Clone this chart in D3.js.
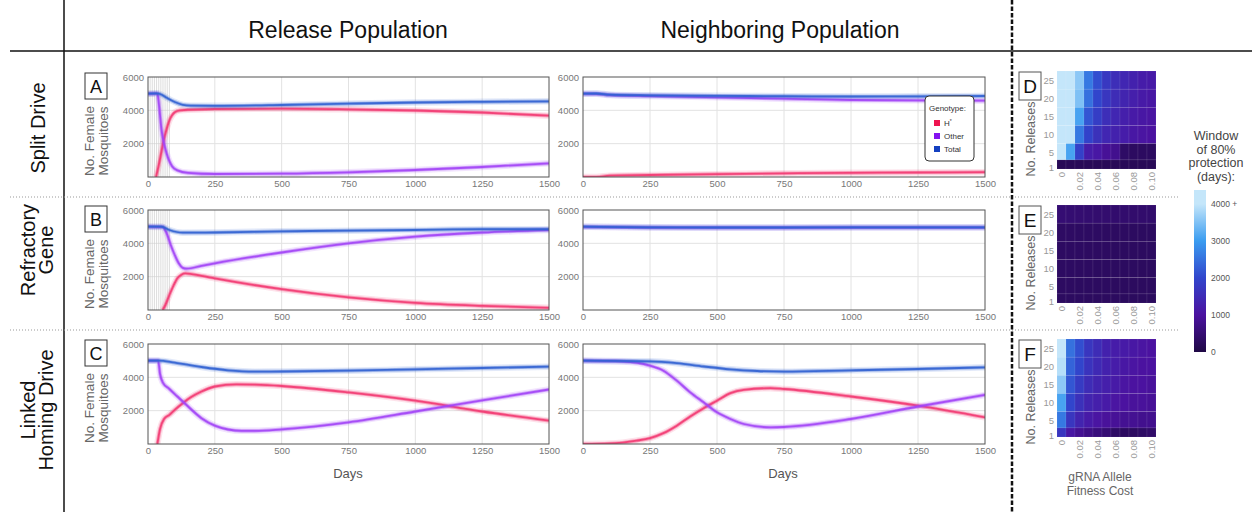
<!DOCTYPE html>
<html>
<head>
<meta charset="utf-8">
<script src="https://cdn.jsdelivr.net/npm/d3@7"></script>
<style>
  body { margin: 0; background: #fff; }
  text { font-family: 'Liberation Sans', Arial, Helvetica, sans-serif; }
</style>
</head>
<body>
<script>
// ---- data ----
const dayTicks = [0, 250, 500, 750, 1000, 1250, 1500];
const countTicks = [2000, 4000, 6000];
const releaseDays = [8, 16, 24, 32, 40, 48, 56, 64, 72, 80];

// [day, no. female mosquitoes]
const relA_h = [[30,0],[40,700],[50,1500],[60,2300],[70,2900],[80,3400],[90,3700],[100,3880],[120,4000],[250,4080],[500,4100],[750,4060],[1000,3990],[1250,3870],[1500,3680]];
const relA_other = [[0,5000],[35,5000],[40,4500],[45,3700],[50,2900],[60,2000],[70,1400],[80,950],[90,650],[110,400],[150,250],[250,180],[500,200],[750,280],[1000,420],[1250,600],[1500,820]];
const relA_total = [[0,5000],[30,5020],[45,4980],[70,4750],[100,4500],[130,4330],[160,4280],[250,4270],[500,4320],[750,4400],[1000,4470],[1250,4510],[1500,4540]];

const nbrA_h = [[0,0],[50,0],[100,80],[250,120],[500,170],[750,220],[1000,250],[1250,270],[1500,290]];
const nbrA_other = [[0,5000],[50,4990],[100,4920],[250,4860],[500,4780],[750,4700],[1000,4620],[1250,4600],[1500,4580]];
const nbrA_total = [[0,5000],[50,5010],[100,4940],[250,4900],[500,4870],[750,4850],[1000,4830],[1250,4840],[1500,4860]];

const relB_h = [[55,0],[65,300],[80,900],[95,1450],[110,1900],[125,2120],[140,2200],[200,2050],[250,1900],[500,1250],[750,760],[1000,430],[1250,250],[1500,130]];
const relB_other = [[0,5000],[55,4980],[70,4600],[85,3900],[100,3300],[115,2800],[130,2530],[145,2480],[200,2650],[250,2800],[500,3450],[750,4000],[1000,4400],[1250,4650],[1500,4800]];
const relB_total = [[0,5000],[50,5000],[80,4800],[130,4640],[250,4650],[500,4720],[750,4760],[1000,4800],[1250,4850],[1500,4850]];

const nbrB_h = []; // stays at zero, hidden under the axis
const nbrB_other = [[0,4990],[250,4950],[500,4940],[750,4940],[1000,4950],[1250,4950],[1500,4950]];
const nbrB_total = [[0,5000],[250,4960],[500,4950],[750,4950],[1000,4960],[1250,4960],[1500,4960]];

const relC_h = [[35,0],[45,900],[60,1500],[80,1750],[100,2050],[130,2450],[160,2800],[200,3150],[250,3450],[330,3580],[400,3560],[500,3480],[750,3100],[1000,2600],[1250,1950],[1500,1400]];
const relC_other = [[0,5000],[38,5000],[45,4200],[55,3700],[80,3300],[110,2850],[140,2400],[200,1550],[250,1100],[300,870],[350,790],[400,790],[500,880],[750,1300],[1000,1950],[1250,2620],[1500,3270]];
const relC_total = [[0,5000],[40,5000],[100,4880],[200,4620],[300,4420],[400,4340],[500,4350],[750,4400],[1000,4480],[1250,4560],[1500,4640]];

const nbrC_h = [[0,0],[100,30],[200,200],[250,350],[300,650],[350,1100],[400,1650],[450,2150],[500,2600],[550,3050],[600,3250],[700,3350],[750,3300],[1000,2850],[1250,2300],[1500,1600]];
const nbrC_other = [[0,5000],[150,4950],[250,4700],[300,4400],[350,3800],[400,3100],[450,2500],[500,1900],[550,1500],[600,1200],[700,1000],[750,1020],[1000,1500],[1250,2250],[1500,2950]];
const nbrC_total = [[0,5000],[250,4960],[350,4850],[450,4650],[550,4480],[650,4380],[750,4340],[1000,4420],[1250,4500],[1500,4600]];

const genotypes = ['H*', 'Other', 'Total'];

// heatmaps: rows = no. releases (top to bottom), columns = gRNA allele fitness cost
const releaseCounts = [25, 20, 15, 10, 5, 1];
const fitnessCosts = [0, 0.01, 0.02, 0.03, 0.04, 0.05, 0.06, 0.07, 0.08, 0.09, 0.10];
const costTickLabels = ['0', '0.02', '0.04', '0.06', '0.08', '0.10'];
const heatD = [
  [4400, 4400, 3600, 2600, 2100, 1750, 1550, 1400, 1300, 1200, 1150],
  [4400, 4400, 3500, 2500, 2000, 1700, 1500, 1350, 1250, 1150, 1100],
  [4400, 4400, 3100, 2200, 1850, 1550, 1400, 1250, 1150, 1100, 1050],
  [4400, 4400, 2600, 1950, 1600, 1400, 1300, 1200, 1100, 1050, 1000],
  [4300, 3100, 1900, 1200, 1100, 900, 800, 350, 300, 300, 300],
  [200, 200, 200, 200, 200, 200, 200, 200, 200, 200, 200]
];
const heatE = [
  [500, 480, 470, 460, 450, 450, 440, 440, 430, 430, 420],
  [330, 330, 320, 320, 320, 310, 310, 310, 300, 300, 300],
  [320, 320, 320, 310, 310, 310, 300, 300, 300, 300, 300],
  [320, 320, 310, 310, 300, 300, 300, 300, 300, 290, 290],
  [310, 310, 300, 300, 300, 300, 290, 290, 290, 290, 290],
  [300, 300, 300, 290, 290, 290, 290, 280, 280, 280, 280]
];
const heatF = [
  [4100, 2500, 2100, 1700, 1500, 1300, 1200, 1150, 1100, 1050, 1000],
  [3900, 2350, 2000, 1650, 1450, 1300, 1200, 1100, 1050, 1000, 1000],
  [3600, 2200, 1800, 1500, 1350, 1250, 1150, 1050, 1000, 1000, 950],
  [3100, 2000, 1600, 1350, 1250, 1150, 1050, 1000, 950, 950, 900],
  [2600, 1700, 1350, 1150, 1050, 950, 900, 850, 850, 800, 800],
  [1700, 1100, 850, 700, 600, 500, 350, 300, 300, 350, 400]
];
const colorTicks = [0, 1000, 2000, 3000, 4000];
const colorTickLabels = ['0', '1000', '2000', '3000', '4000 +'];

(function() {
  'use strict';

  const W = 1252, H = 512;
  const seriesColors = ['#f23a72', '#a244f6', '#3162d2'];
  const legendColors = ['#ee1450', '#8412f0', '#1440c0'];

  let svg = d3.select('body').append('svg')
    .attr('width', W)
    .attr('height', H);
  let defs = svg.append('defs');
  let clipCount = 0;

  svg.append('rect')
    .attr('width', W).attr('height', H)
    .attr('fill', '#fff');

  // ---- frame lines ----
  svg.append('line')
    .attr('x1', 64).attr('y1', 0).attr('x2', 64).attr('y2', H)
    .attr('stroke', '#111').attr('stroke-width', 1.5);
  svg.append('line')
    .attr('x1', 10).attr('y1', 51).attr('x2', W).attr('y2', 51)
    .attr('stroke', '#111').attr('stroke-width', 1.5);
  [197, 330].forEach(y => {
    svg.append('line')
      .attr('x1', 10).attr('y1', y).attr('x2', 1180).attr('y2', y)
      .attr('stroke', '#999').attr('stroke-width', 1)
      .attr('stroke-dasharray', '1,2');
  });
  svg.append('line')
    .attr('x1', 1012).attr('y1', 0).attr('x2', 1012).attr('y2', H)
    .attr('stroke', '#111').attr('stroke-width', 2.5)
    .attr('stroke-dasharray', '4.5,2');

  // ---- headers ----
  svg.append('text')
    .attr('x', 348).attr('y', 38)
    .attr('text-anchor', 'middle')
    .style('font-size', '23px').style('fill', '#111')
    .text('Release Population');
  svg.append('text')
    .attr('x', 780).attr('y', 38)
    .attr('text-anchor', 'middle')
    .style('font-size', '23px').style('fill', '#111')
    .text('Neighboring Population');

  // row labels (rotated)
  const rowLabels = [
    { cy: 128, lines: ['Split Drive'] },
    { cy: 250, lines: ['Refractory', 'Gene'] },
    { cy: 410, lines: ['Linked', 'Homing Drive'] }
  ];
  rowLabels.forEach(r => {
    let xs = r.lines.length === 1 ? [45] : [35, 53];
    r.lines.forEach((t, i) => {
      svg.append('text')
        .attr('transform', 'translate(' + xs[i] + ',' + r.cy + ')rotate(-90)')
        .attr('text-anchor', 'middle')
        .style('font-size', '20px').style('fill', '#111')
        .text(t);
    });
  });

  // ---- line charts ----
  const plotTops = [77, 210, 344];
  const plotH = 100;
  const plotCols = [[148, 549], [583, 985]];
  const panels = [
    [[relA_h, relA_other, relA_total], [nbrA_h, nbrA_other, nbrA_total]],
    [[relB_h, relB_other, relB_total], [nbrB_h, nbrB_other, nbrB_total]],
    [[relC_h, relC_other, relC_total], [nbrC_h, nbrC_other, nbrC_total]]
  ];
  const letters = ['A', 'B', 'C'];

  panels.forEach((row, r) => {
    let top = plotTops[r];
    row.forEach((series, c) => {
      let x = d3.scaleLinear().domain([0, 1500]).range(plotCols[c]);
      let y = d3.scaleLinear().domain([0, 6000]).range([top + plotH, top]);
      drawLinePanel(x, y, series, r < 2 && c === 0);
    });

    // letter box
    svg.append('rect')
      .attr('x', 85).attr('y', top - 4)
      .attr('width', 22).attr('height', 26)
      .attr('fill', '#fff').attr('stroke', '#333').attr('stroke-width', 1);
    svg.append('text')
      .attr('x', 96).attr('y', top + 16)
      .attr('text-anchor', 'middle')
      .style('font-size', '18px').style('fill', '#111')
      .text(letters[r]);

    // y-axis label
    [['No. Female', 94], ['Mosquitoes', 108]].forEach(l => {
      svg.append('text')
        .attr('transform', 'translate(' + l[1] + ',' + (top + 64) + ')rotate(-90)')
        .attr('text-anchor', 'middle')
        .style('font-size', '13.5px').style('fill', '#666')
        .text(l[0]);
    });
  });

  // Days labels
  [348, 783].forEach(cx => {
    svg.append('text')
      .attr('x', cx).attr('y', 478)
      .attr('text-anchor', 'middle')
      .style('font-size', '13px').style('fill', '#555')
      .text('Days');
  });

  drawLegend();

  function drawLinePanel(x, y, series, showReleases) {
    let g = svg.append('g');
    let [x0, x1] = x.range();
    let [yb, yt] = y.range();

    let clipId = 'clip' + (clipCount++);
    defs.append('clipPath').attr('id', clipId)
      .append('rect')
      .attr('x', x0).attr('y', yt)
      .attr('width', x1 - x0).attr('height', yb - yt);

    // grid
    g.selectAll('.vgrid')
      .data(dayTicks.slice(1, -1))
      .enter().append('line')
      .attr('x1', d => x(d)).attr('x2', d => x(d))
      .attr('y1', yt).attr('y2', yb)
      .attr('stroke', '#e2e2e2').attr('stroke-width', 1);
    g.selectAll('.hgrid')
      .data(countTicks.slice(0, -1))
      .enter().append('line')
      .attr('x1', x0).attr('x2', x1)
      .attr('y1', d => y(d)).attr('y2', d => y(d))
      .attr('stroke', '#e2e2e2').attr('stroke-width', 1);

    // release events
    if (showReleases) {
      g.selectAll('.rel')
        .data(releaseDays)
        .enter().append('line')
        .attr('x1', d => x(d)).attr('x2', d => x(d))
        .attr('y1', yt).attr('y2', yb)
        .attr('stroke', '#cfcfcf').attr('stroke-width', 0.7);
    }

    let line = d3.line()
      .x(d => x(d[0]))
      .y(d => y(d[1]))
      .curve(d3.curveMonotoneX);

    let lines = g.append('g').attr('clip-path', 'url(#' + clipId + ')');
    series.forEach((s, i) => {
      if (!s.length) return;
      [[6.5, 0.14], [3.6, 0.42], [1.8, 0.9]].forEach(w => {
        lines.append('path')
          .datum(s)
          .attr('d', line)
          .attr('fill', 'none')
          .attr('stroke', seriesColors[i])
          .attr('stroke-width', w[0])
          .attr('stroke-opacity', w[1])
          .attr('stroke-linejoin', 'round');
      });
    });

    // border
    g.append('rect')
      .attr('x', x0).attr('y', yt)
      .attr('width', x1 - x0).attr('height', yb - yt)
      .attr('fill', 'none').attr('stroke', '#555').attr('stroke-width', 1);

    let yAxis = g.append('g')
      .attr('transform', 'translate(' + x0 + ',0)')
      .call(d3.axisLeft(y).tickValues(countTicks).tickFormat(d3.format('d')).tickSize(0).tickPadding(4));
    let xAxis = g.append('g')
      .attr('transform', 'translate(0,' + yb + ')')
      .call(d3.axisBottom(x).tickValues(dayTicks).tickFormat(d3.format('d')).tickSize(0).tickPadding(3));
    [yAxis, xAxis].forEach(a => {
      a.select('.domain').remove();
      a.selectAll('text')
        .style('font-size', '9.5px')
        .style('font-family', "'Liberation Sans', Arial, sans-serif")
        .attr('fill', '#777');
    });
  }

  function drawLegend() {
    let g = svg.append('g');
    g.append('rect')
      .attr('x', 925).attr('y', 96)
      .attr('width', 49).attr('height', 65)
      .attr('rx', 4)
      .attr('fill', '#fff').attr('stroke', '#333').attr('stroke-width', 1);
    g.append('text')
      .attr('x', 929).attr('y', 111)
      .style('font-size', '8px').style('fill', '#333')
      .text('Genotype:');
    genotypes.forEach((gt, i) => {
      let yy = 126 + i * 13;
      g.append('rect')
        .attr('x', 934).attr('y', yy - 6)
        .attr('width', 6).attr('height', 6)
        .attr('fill', legendColors[i]);
      let t = g.append('text')
        .attr('x', 944).attr('y', yy)
        .style('font-size', '8px').style('fill', '#333');
      if (gt === 'H*') {
        t.append('tspan').text('H');
        t.append('tspan').attr('dy', -3).style('font-size', '5px').text('*');
      } else {
        t.text(gt);
      }
    });
  }

  // ---- heatmaps ----
  const color = d3.scaleLinear()
    .domain(colorTicks)
    .range(['#1f0845', '#4b12a0', '#3145cc', '#3a9cf0', '#c4e6fa'])
    .clamp(true);

  const heatTops = [71, 205, 339];
  const heatX = d3.scaleBand()
    .domain(fitnessCosts)
    .range([1057, 1156]);
  const heatLetters = ['D', 'E', 'F'];
  const heats = [heatD, heatE, heatF];

  // row boundaries halfway between release counts
  function rowBounds(i) {
    let v = releaseCounts[i];
    let above = i === 0 ? v + 2.5 : (v + releaseCounts[i - 1]) / 2;
    let below = i === releaseCounts.length - 1 ? 0.5 : (v + releaseCounts[i + 1]) / 2;
    return [below, above];
  }

  heats.forEach((mat, k) => {
    let top = heatTops[k];
    let hy = d3.scaleLinear().domain([0.5, 27.5]).range([top + 98, top]);
    let g = svg.append('g');

    mat.forEach((row, i) => {
      let b = rowBounds(i);
      g.selectAll('.c' + i)
        .data(row)
        .enter().append('rect')
        .attr('x', (d, j) => heatX(fitnessCosts[j]))
        .attr('y', hy(b[1]))
        .attr('width', heatX.bandwidth())
        .attr('height', hy(b[0]) - hy(b[1]))
        .attr('fill', d => color(d))
        .attr('stroke', 'rgba(255,255,255,0.12)')
        .attr('stroke-width', 0.6);
    });

    // y ticks
    g.selectAll('.yt')
      .data(releaseCounts)
      .enter().append('text')
      .attr('x', 1054)
      .attr('y', d => hy(d) + 3.5)
      .attr('text-anchor', 'end')
      .style('font-size', '9.5px').style('fill', '#999')
      .text(d => d);

    // x ticks (rotated)
    g.selectAll('.xt')
      .data(costTickLabels)
      .enter().append('text')
      .attr('transform', (d, j) => 'translate(' + (heatX(fitnessCosts[j * 2]) + heatX.bandwidth() / 2 + 3.5) + ',' + (top + 101) + ')rotate(-90)')
      .attr('text-anchor', 'end')
      .style('font-size', '9.5px').style('fill', '#999')
      .text(d => d);

    // letter box
    g.append('rect')
      .attr('x', 1019).attr('y', top + 1)
      .attr('width', 22).attr('height', 28)
      .attr('fill', '#fff').attr('stroke', '#555').attr('stroke-width', 1);
    g.append('text')
      .attr('x', 1030).attr('y', top + 22)
      .attr('text-anchor', 'middle')
      .style('font-size', '19px').style('fill', '#111')
      .text(heatLetters[k]);

    g.append('text')
      .attr('transform', 'translate(1035,' + (top + 68) + ')rotate(-90)')
      .attr('text-anchor', 'middle')
      .style('font-size', '12.5px').style('fill', '#666')
      .text('No. Releases');
  });

  svg.append('text')
    .attr('x', 1100).attr('y', 481)
    .attr('text-anchor', 'middle')
    .style('font-size', '12px').style('fill', '#666')
    .text('gRNA Allele');
  svg.append('text')
    .attr('x', 1100).attr('y', 495)
    .attr('text-anchor', 'middle')
    .style('font-size', '12px').style('fill', '#666')
    .text('Fitness Cost');

  // ---- colour bar ----
  const cbY = d3.scaleLinear().domain([0, 4000]).range([352, 204]);
  const cbTop = 190;
  let grad = defs.append('linearGradient')
    .attr('id', 'cbGrad')
    .attr('x1', 0).attr('y1', 1).attr('x2', 0).attr('y2', 0);
  colorTicks.forEach(v => {
    grad.append('stop')
      .attr('offset', (352 - cbY(v)) / (352 - cbTop))
      .attr('stop-color', color(v));
  });
  grad.append('stop').attr('offset', 1).attr('stop-color', color(4000));

  svg.append('rect')
    .attr('x', 1194).attr('y', cbTop)
    .attr('width', 12).attr('height', 352 - cbTop)
    .attr('fill', 'url(#cbGrad)');

  svg.selectAll('.cbt')
    .data(colorTicks)
    .enter().append('text')
    .attr('x', 1211)
    .attr('y', d => cbY(d) + 3)
    .style('font-size', '8.5px').style('fill', '#555')
    .text((d, i) => colorTickLabels[i]);

  ['Window', 'of 80%', 'protection', '(days):'].forEach((t, i) => {
    svg.append('text')
      .attr('x', 1216).attr('y', 140 + i * 13.7)
      .attr('text-anchor', 'middle')
      .style('font-size', '12.5px').style('fill', '#444')
      .text(t);
  });
})();
</script>
</body>
</html>
